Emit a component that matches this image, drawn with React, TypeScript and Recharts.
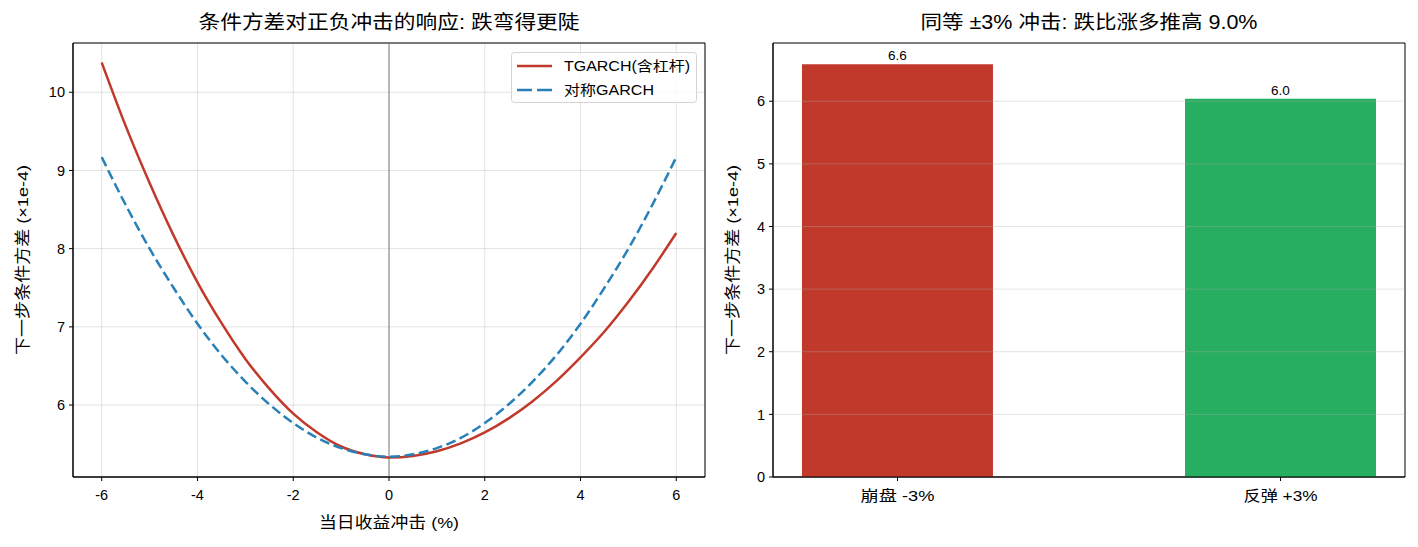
import React from 'react';
import {
  LineChart, Line, BarChart, Bar, Cell, XAxis, YAxis, CartesianGrid,
  ReferenceLine, ReferenceArea, LabelList, Customized,
} from 'recharts';

// news-impact curve, shock in %
const shock = [-6, -5.5, -5, -4.5, -4, -3.5, -3, -2.5, -2, -1.5, -1, -0.5, 0, 0.5, 1, 1.5, 2, 2.5, 3, 3.5, 4, 4.5, 5, 5.5, 6];
const tgarchVar = [10.38, 9.57, 8.84, 8.17, 7.57, 7.05, 6.59, 6.21, 5.89, 5.65, 5.47, 5.37, 5.33, 5.35, 5.41, 5.51, 5.65, 5.83, 6.05, 6.31, 6.61, 6.94, 7.32, 7.74, 8.2];
const garchVar = [9.17, 8.56, 8.0, 7.5, 7.04, 6.64, 6.3, 6.01, 5.77, 5.58, 5.45, 5.37, 5.34, 5.37, 5.45, 5.58, 5.77, 6.01, 6.3, 6.64, 7.04, 7.5, 8.0, 8.56, 9.17];
const xTicks = [-6, -4, -2, 0, 2, 4, 6];
const yTicks = [6, 7, 8, 9, 10];

// +-3% shock comparison
const barLabels = ['崩盘 -3%', '反弹 +3%'];
const barValues = [6.59, 6.04];
const barColors = ['#c0392b', '#27ae60'];
const barTicks = [0, 1, 2, 3, 4, 5, 6];

const FONT = '"Liberation Sans", Arial, "Noto Sans CJK SC", sans-serif';
const RED = '#c0392b';
const BLUE = '#2980b9';
const DASH = '10 4.5';

const lineData = shock.map((x, i) => ({ x, tgarch: tgarchVar[i], garch: garchVar[i] }));
const barData = barLabels.map((label, i) => ({ pos: i, label, value: barValues[i] }));

const tickStyle = { fill: '#000', fontSize: 14.5, fontFamily: FONT };

function Texts({ title, titleX, titleLen, xLabel, yLabel }: { title: string; titleX: number; titleLen: number; xLabel?: string; yLabel: string }) {
  return (
    <g fontFamily={FONT} fill="#000">
      <text x={titleX} y={22} textAnchor="middle" dominantBaseline="central" fontSize={19.5}
        textLength={titleLen} lengthAdjust="spacingAndGlyphs">{title}</text>
      {xLabel && (
        <text x={389} y={522} textAnchor="middle" dominantBaseline="central" fontSize={15.5}
          textLength={140} lengthAdjust="spacingAndGlyphs">{xLabel}</text>
      )}
      <text x={22} y={260} transform="rotate(-90, 22, 260)" textAnchor="middle" dominantBaseline="central" fontSize={15.5}
        textLength={190} lengthAdjust="spacingAndGlyphs">{yLabel}</text>
    </g>
  );
}

function BarTick(props: any) {
  const { x, y, payload } = props;
  return (
    <text x={x} y={y + 13} textAnchor="middle" dominantBaseline="central" fontSize={14.5} fontFamily={FONT} fill="#000"
      textLength={74} lengthAdjust="spacingAndGlyphs">
      {barLabels[payload.value] ?? ''}
    </text>
  );
}

function LegendBox() {
  return (
    <svg style={{ position: 'absolute', left: 511, top: 52 }} width={187} height={52}>
      <rect x={0.5} y={0.5} width={185} height={50} rx={3} fill="rgba(255,255,255,0.8)" stroke="#d5d5d5" />
      <line x1={6} y1={14} x2={41} y2={14} stroke={RED} strokeWidth={2.5} />
      <line x1={6} y1={38} x2={41} y2={38} stroke={BLUE} strokeWidth={2.5} strokeDasharray="15 5" />
      <g fontFamily={FONT} fontSize={14} fill="#000">
        <text x={53} y={14} dominantBaseline="central" textLength={126} lengthAdjust="spacingAndGlyphs">TGARCH(含杠杆)</text>
        <text x={53} y={38} dominantBaseline="central" textLength={90} lengthAdjust="spacingAndGlyphs">对称GARCH</text>
      </g>
    </svg>
  );
}

export default function App() {
  return (
    <div style={{ position: 'absolute', left: 0, top: 0, width: 1418, height: 547, background: '#fff' }}>
      <div style={{ position: 'absolute', left: 0, top: 0 }}>
        <LineChart width={710} height={547} data={lineData} margin={{ top: 43, right: 5, bottom: 40, left: 33 }}>
          <CartesianGrid stroke="#b0b0b0" strokeOpacity={0.35} />
          <XAxis type="number" dataKey="x" domain={[-6.6, 6.6]} ticks={xTicks} height={30} tickSize={4} tickMargin={9}
            allowDataOverflow tick={tickStyle} stroke="#000" tickFormatter={(v: number) => String(v)} />
          <YAxis type="number" domain={[5.08, 10.63]} ticks={yTicks} width={40} tickSize={4} tickMargin={4}
            allowDataOverflow tick={tickStyle} stroke="#000" />
          <ReferenceLine x={0} stroke="#808080" strokeWidth={1} />
          <Line type="monotone" dataKey="tgarch" stroke={RED} strokeWidth={2.5} dot={false} isAnimationActive={false} />
          <Line type="monotone" dataKey="garch" stroke={BLUE} strokeWidth={2.5} strokeDasharray={DASH} dot={false} isAnimationActive={false} />
          <ReferenceArea x1={-6.6} x2={6.6} y1={5.08} y2={10.63} fill="none" stroke="#000" strokeWidth={1} />
          <Customized component={() => (
            <Texts title="条件方差对正负冲击的响应: 跌弯得更陡" titleX={389} titleLen={381} xLabel="当日收益冲击 (%)" yLabel="下一步条件方差 (×1e-4)" />
          )} />
        </LineChart>
        <LegendBox />
      </div>
      <div style={{ position: 'absolute', left: 710, top: 0 }}>
        <BarChart width={708} height={547} data={barData} margin={{ top: 43, right: 13, bottom: 40, left: 23 }}>
          <XAxis type="number" dataKey="pos" domain={[-0.325, 1.325]} ticks={[0, 1]} height={30} tickSize={4}
            allowDataOverflow tick={<BarTick />} stroke="#000" />
          <YAxis type="number" domain={[0, 6.93]} ticks={barTicks} width={40} tickSize={4} tickMargin={4}
            allowDataOverflow tick={tickStyle} stroke="#000" />
          <Bar dataKey="value" barSize={191} isAnimationActive={false}>
            {barData.map((d, i) => <Cell key={d.label} fill={barColors[i]} />)}
            <LabelList dataKey="value" position="top" offset={4} fill="#000" fontSize={13.5} fontFamily={FONT}
              formatter={(v: any) => Number(v).toFixed(1)} />
          </Bar>
          {barTicks.slice(1).map((t) => (
            <ReferenceLine key={t} y={t} stroke="#b0b0b0" strokeOpacity={0.35} />
          ))}
          <ReferenceArea x1={-0.325} x2={1.325} y1={0} y2={6.93} fill="none" stroke="#000" strokeWidth={1} />
          <Customized component={() => (
            <Texts title="同等 ±3% 冲击: 跌比涨多推高 9.0%" titleX={379} titleLen={337} yLabel="下一步条件方差 (×1e-4)" />
          )} />
        </BarChart>
      </div>
    </div>
  );
}
